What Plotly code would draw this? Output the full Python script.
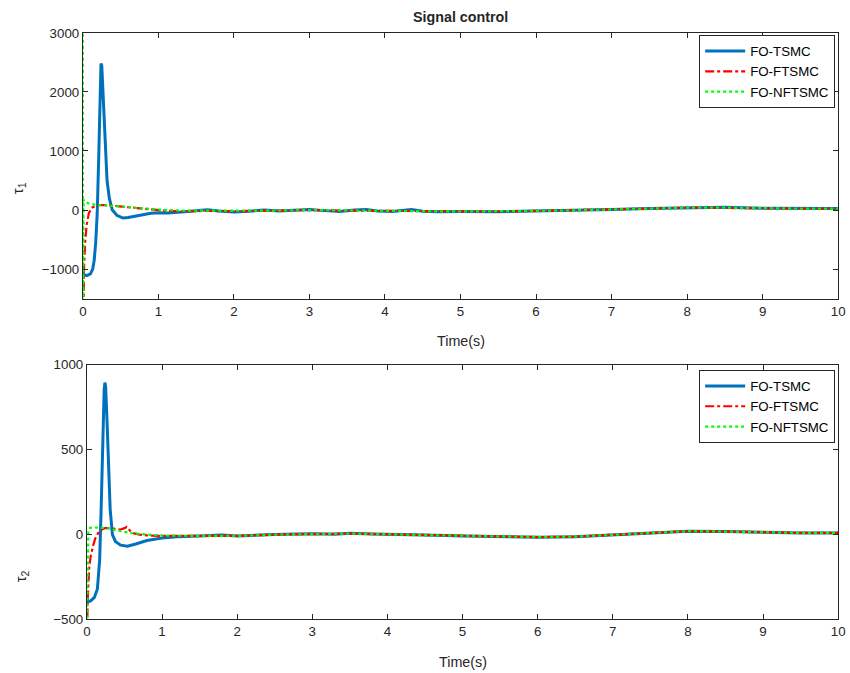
import plotly.graph_objects as go

# ---------------- data: top panel (tau_1) ----------------
t1_tsmc = [0, 0.02, 0.05, 0.1, 0.13, 0.15, 0.17, 0.19, 0.21, 0.23, 0.24, 0.25, 0.27, 0.29,
           0.32, 0.35, 0.39, 0.45, 0.53, 0.6, 0.7, 0.8, 0.9, 1.0, 1.12, 1.3, 1.5, 1.65, 1.8,
           2.0, 2.2, 2.4, 2.6, 2.8, 3.0, 3.2, 3.4, 3.6, 3.75, 3.9, 4.1, 4.35, 4.5, 4.7, 5.0,
           5.5, 6.0, 6.5, 7.0, 7.5, 8.0, 8.5, 9.0, 9.5, 10]
v1_tsmc = [-1050, -1100, -1110, -1080, -1000, -850, -550, -50, 900, 2200, 2480, 2450, 1900, 1100,
           500, 200, 0, -90, -135, -125, -100, -75, -55, -45, -50, -35, -10, 5, -15,
           -35, -20, 0, -15, -5, 10, -10, -25, 0, 10, -15, -25, 10, -20, -30, -25,
           -30, -20, -5, 10, 25, 40, 45, 30, 25, 25]

t1_ftsmc = [0, 0.005, 0.015, 0.03, 0.05, 0.08, 0.12, 0.18, 0.25, 0.35, 0.5, 0.7, 0.9, 1.1,
            1.3, 1.6, 2.0, 2.5, 3.0, 3.5, 4.0, 4.5, 5.0, 5.5, 6.0, 6.5, 7.0, 7.5, 8.0, 8.5,
            9.0, 9.5, 10]
v1_ftsmc = [-3500, -1500, -1000, -550, -250, -50, 40, 75, 85, 80, 60, 30, 10, -10,
            -25, -15, -20, -10, 0, -10, -15, -20, -25, -25, -15, -5, 10, 25, 40, 40,
            30, 25, 25]

t1_nftsmc = [0, 0.003, 0.006, 0.01, 0.02, 0.05, 0.1, 0.2, 0.3, 0.5, 0.7, 0.9, 1.1, 1.3,
             1.6, 2.0, 2.5, 3.0, 3.5, 4.0, 4.5, 5.0, 5.5, 6.0, 6.5, 7.0, 7.5, 8.0, 8.5,
             9.0, 9.5, 10]
v1_nftsmc = [4000, -3000, 500, 180, 140, 120, 100, 85, 80, 60, 35, 15, 0, -10,
             -10, -15, -10, 0, -10, -15, -20, -25, -25, -15, -5, 10, 25, 40, 40,
             30, 25, 25]

# ---------------- data: bottom panel (tau_2) ----------------
t2_tsmc = [0, 0.02, 0.05, 0.1, 0.14, 0.17, 0.19, 0.21, 0.23, 0.24, 0.25, 0.27, 0.29, 0.31,
           0.34, 0.38, 0.45, 0.54, 0.65, 0.8, 1.0, 1.2, 1.5, 1.8, 2.0, 2.3, 2.5, 2.8, 3.0,
           3.3, 3.5, 3.8, 4.0, 4.3, 4.5, 4.8, 5.0, 5.5, 6.0, 6.5, 7.0, 7.5, 8.0, 8.5, 9.0,
           9.5, 10]
v2_tsmc = [-380, -395, -390, -370, -320, -150, 150, 550, 850, 895, 870, 650, 350, 150,
           0, -40, -62, -68, -55, -35, -20, -12, -8, -3, -8, -2, 0, 3, 5,
           2, 8, 4, 3, -2, 0, -5, -8, -12, -15, -12, -2, 12, 20, 18, 12,
           10, 10]

t2_ftsmc = [0, 0.01, 0.03, 0.05, 0.08, 0.11, 0.15, 0.2, 0.25, 0.3, 0.35, 0.4, 0.45, 0.5,
            0.53, 0.56, 0.6, 0.7, 0.8, 1.0, 1.5, 2.0, 2.5, 3.0, 3.5, 4.0, 4.5, 5.0, 5.5,
            6.0, 6.5, 7.0, 7.5, 8.0, 8.5, 9.0, 9.5, 10]
v2_ftsmc = [-700, -400, -200, -130, -70, -25, 10, 30, 40, 38, 35, 35, 30, 38,
            45, 30, 10, 0, -5, -8, -8, -8, 0, 5, 6, 2, -2, -8, -12,
            -15, -12, -2, 12, 20, 18, 12, 10, 10]

t2_nftsmc = [0, 0.005, 0.012, 0.02, 0.04, 0.1, 0.2, 0.3, 0.4, 0.5, 0.6, 0.8, 1.0, 1.5,
             2.0, 2.5, 3.0, 3.5, 4.0, 4.5, 5.0, 5.5, 6.0, 6.5, 7.0, 7.5, 8.0, 8.5, 9.0,
             9.5, 10]
v2_nftsmc = [-600, -350, -80, 20, 40, 42, 40, 35, 25, 15, 8, 0, -5, -8,
             -8, 0, 5, 6, 2, -2, -8, -12, -15, -12, -2, 12, 20, 18, 12,
             10, 10]

names = ["FO-TSMC", "FO-FTSMC", "FO-NFTSMC"]
colors = ["#0072BD", "#FF0000", "#00FF00"]
dashes = ["solid", "dashdot", "dot"]
widths = [3, 2.2, 2.2]

x_ticks = list(range(0, 11))
y1_ticks = [-1000, 0, 1000, 2000, 3000]
y2_ticks = [-500, 0, 500, 1000]

W, H = 850, 673
# measured correction between layout pixels and the photographed page
AX, BX = 3.05, 0.988
AY, BY = 7.2, 0.975


def px(X):
    return (X - AX) / BX / W


def py(Y):
    return 1 - (Y - AY) / BY / H


FS = 13.3
fig = go.Figure()

top = [(t1_tsmc, v1_tsmc), (t1_ftsmc, v1_ftsmc), (t1_nftsmc, v1_nftsmc)]
bot = [(t2_tsmc, v2_tsmc), (t2_ftsmc, v2_ftsmc), (t2_nftsmc, v2_nftsmc)]

for i, (t, v) in enumerate(top):
    fig.add_trace(go.Scatter(x=t, y=v, mode="lines", name=names[i],
                             line=dict(color=colors[i], dash=dashes[i], width=widths[i]),
                             xaxis="x", yaxis="y", legend="legend"))
for i, (t, v) in enumerate(bot):
    fig.add_trace(go.Scatter(x=t, y=v, mode="lines", name=names[i],
                             line=dict(color=colors[i], dash=dashes[i], width=widths[i]),
                             xaxis="x2", yaxis="y2", legend="legend2"))

txt = "#262626"
FAM = "Liberation Sans, Arial, sans-serif"
font = dict(family=FAM, size=FS, color=txt)


def ax(**kw):
    d = dict(showline=True, linecolor=txt, linewidth=1, mirror="ticks",
             ticks="inside", ticklen=5, tickcolor=txt, showgrid=False, zeroline=False,
             tickfont=font, ticklabeloverflow="allow")
    d.update(kw)
    return d


legend_common = dict(bgcolor="white", bordercolor=txt, borderwidth=1,
                     font=dict(family=FAM, size=FS, color="black"),
                     xanchor="right", yanchor="top", itemwidth=40, tracegroupgap=0)

fig.update_layout(
    width=W, height=H, margin=dict(l=0, r=0, t=0, b=0),
    paper_bgcolor="white", plot_bgcolor="white",
    font=font,
    xaxis=ax(domain=[px(82), px(838)], range=[0, 10], tickvals=x_ticks, anchor="y"),
    yaxis=ax(domain=[py(298), py(33)], range=[-1500, 3000], tickvals=y1_ticks, anchor="x"),
    xaxis2=ax(domain=[px(86), px(838)], range=[0, 10], tickvals=x_ticks, anchor="y2"),
    yaxis2=ax(domain=[py(618), py(364)], range=[-500, 1000], tickvals=y2_ticks, anchor="x2"),
    legend=dict(x=px(835), y=py(35), **legend_common),
    legend2=dict(x=px(835), y=py(369), **legend_common),
    showlegend=True,
)

annots = [
    dict(text="<b>Signal control</b>", x=px(460), y=py(17), size=14.3),
    dict(text="Time(s)", x=px(460), y=py(340), size=14.3),
    dict(text="Time(s)", x=px(462), y=py(660), size=14.3),
    dict(text="τ<sub>1</sub>", x=px(17), y=py(188), size=15, angle=-90),
    dict(text="τ<sub>2</sub>", x=px(20), y=py(575), size=15, angle=-90),
]
for a in annots:
    fig.add_annotation(text=a["text"], x=a["x"], y=a["y"], xref="paper", yref="paper",
                       showarrow=False, xanchor="center", yanchor="middle",
                       textangle=a.get("angle", 0),
                       font=dict(family=FAM, size=a["size"], color=txt))

fig.write_html("out.html")
